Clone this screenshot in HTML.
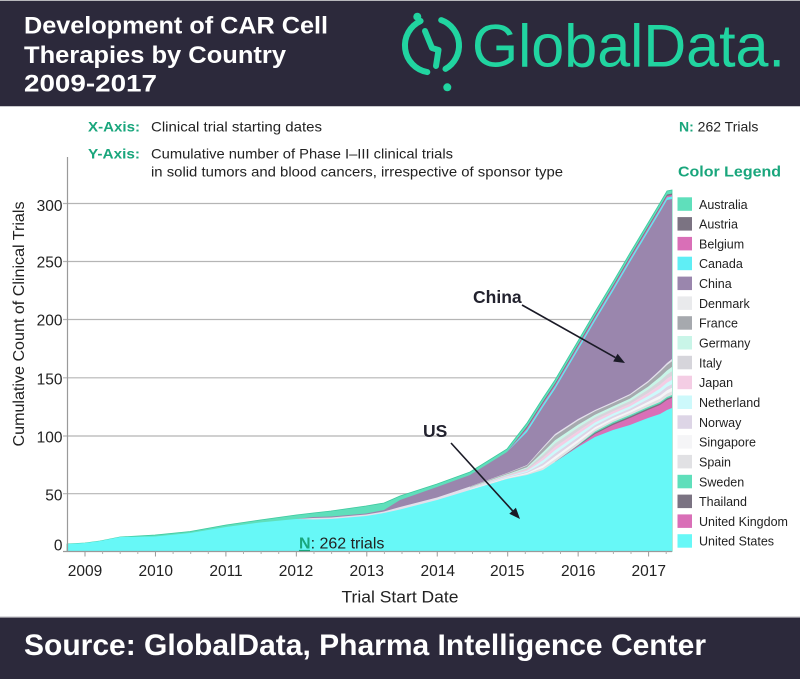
<!DOCTYPE html>
<html>
<head>
<meta charset="utf-8">
<style>
  html,body{margin:0;padding:0;background:#ffffff;}
  svg{display:block;}
  text{font-family:"Liberation Sans",Arial,sans-serif;}
</style>
</head>
<body>
<svg width="800" height="679" viewBox="0 0 800 679" xmlns="http://www.w3.org/2000/svg">
  <!-- Header -->
  <rect x="0" y="0" width="800" height="106" fill="#2c293b"/>
  <line x1="0" y1="0.5" x2="800" y2="0.5" stroke="#b8b8bc" stroke-width="1"/>
  <line x1="0" y1="106.5" x2="800" y2="106.5" stroke="#c8c8cc" stroke-width="1"/>
  <text x="24" y="33.3" font-size="24" font-weight="bold" fill="#ffffff" textLength="304" lengthAdjust="spacingAndGlyphs">Development of CAR Cell</text>
  <text x="24" y="63" font-size="24" font-weight="bold" fill="#ffffff" textLength="262" lengthAdjust="spacingAndGlyphs">Therapies by Country</text>
  <text x="24" y="91.7" font-size="24" font-weight="bold" fill="#ffffff" textLength="133" lengthAdjust="spacingAndGlyphs">2009-2017</text>

  <!-- Logo -->
  <g fill="none" stroke="#21d4a0" stroke-width="6" stroke-linecap="round" stroke-linejoin="round">
    <path d="M420.6,21 A27,27 0 0 0 427.3,72.1"/>
    <path d="M441.2,20.1 A27,27 0 0 1 445.5,68.9"/>
    <path d="M425,31 L432,48 L438.5,50 L436,66"/>
  </g>
  <circle cx="417.3" cy="16.7" r="4" fill="#21d4a0"/>
  <circle cx="447.3" cy="87.3" r="4" fill="#21d4a0"/>
  <text x="472" y="66.7" font-size="60" fill="#21d4a0" textLength="313" lengthAdjust="spacingAndGlyphs">GlobalData.</text>

  <!-- Sub-header -->
  <text x="88" y="131.5" font-size="14" font-weight="bold" fill="#19a67c" textLength="52" lengthAdjust="spacingAndGlyphs">X-Axis:</text>
  <text x="151" y="131.5" font-size="14" fill="#222222" textLength="171" lengthAdjust="spacingAndGlyphs">Clinical trial starting dates</text>
  <text x="88" y="158.5" font-size="14" font-weight="bold" fill="#19a67c" textLength="52" lengthAdjust="spacingAndGlyphs">Y-Axis:</text>
  <text x="151" y="158.5" font-size="14" fill="#222222" textLength="302" lengthAdjust="spacingAndGlyphs">Cumulative number of Phase I–III clinical trials</text>
  <text x="151" y="176.7" font-size="14" fill="#222222" textLength="412" lengthAdjust="spacingAndGlyphs">in solid tumors and blood cancers, irrespective of sponsor type</text>
  <text x="679" y="131.5" font-size="14" fill="#222222"><tspan font-weight="bold" fill="#19a67c">N:</tspan> 262 Trials</text>
  <text x="678" y="176.7" font-size="15" font-weight="bold" fill="#19a67c" textLength="103" lengthAdjust="spacingAndGlyphs">Color Legend</text>

  <!-- Gridlines -->
  <g stroke="#b5b5b5" stroke-width="1.2">
    <line x1="63" y1="203.5" x2="672" y2="203.5"/>
    <line x1="63" y1="261.5" x2="672" y2="261.5"/>
    <line x1="63" y1="319.5" x2="672" y2="319.5"/>
    <line x1="63" y1="377.8" x2="672" y2="377.8"/>
    <line x1="63" y1="436" x2="672" y2="436"/>
    <line x1="63" y1="493.7" x2="672" y2="493.7"/>
  </g>

  <!-- Stacked areas (painter order: top boundary first) -->
  <!-- Australia -->
  <path d="M67,551.5 L67,544 L85,543 L100,541 L120,537 L155,535 L190,531.5 L226,525 L260,520 L296,515 L313,513 L331,511 L366,506 L384,503 L400,496 L437,484 L470,472 L507,449 L527,423 L543,398 L555,380 L578,341 L595,312 L613,282 L630,253 L648,223 L660,203 L667,191 L672,190 L672,551.5 Z" fill="#5fdfbb" stroke="#3fc99f" stroke-width="0.8"/>
  <!-- Austria -->
  <path d="M507,551.5 L507,452 L527,426.5 L543,401.5 L555,383.5 L578,344.5 L595,315.5 L613,285.5 L630,256.5 L648,226.5 L660,206.5 L667,194.5 L672,193.5 L672,551.5 Z" fill="#7b7382"/>
  <!-- Belgium -->
  <path d="M507,551.5 L507,452 L527,428 L543,403 L555,385 L578,346 L595,317 L613,287 L630,258 L648,228 L660,208 L667,196 L672,195 L672,551.5 Z" fill="#d96fb7"/>
  <!-- Canada -->
  <path d="M507,551.5 L507,452 L527,429.5 L543,404.5 L555,386.5 L578,347.5 L595,318.5 L613,288.5 L630,259.5 L648,229.5 L660,209.5 L667,197.5 L672,196.5 L672,551.5 Z" fill="#5feef5"/>
  <!-- China -->
  <path d="M296,551.5 L296,519 L313,517 L331,516.5 L366,513.5 L384,510 L400,500 L437,487 L470,475 L507,452 L527,432 L543,407 L555,389 L578,350 L595,321 L613,291 L630,262 L648,232 L660,212 L667,200 L672,199 L672,551.5 Z" fill="#9a86ad"/>
  <!-- Denmark -->
  <path d="M296,551.5 L296,519 L313,518 L331,517.5 L366,514.5 L384,511.5 L400,507 L437,497.5 L470,486.5 L507,473 L527,465 L543,447 L555,434 L578,419 L595,410 L613,402 L630,394 L648,381 L660,370 L667,363 L672,359 L672,551.5 Z" fill="#e4e0ec"/>
  <!-- France -->
  <path d="M470,551.5 L470,486.7 L507,473.4 L527,465.6 L543,448.4 L555,435.7 L578,420.6 L595,411.3 L613,403.2 L630,395.3 L648,382.6 L660,371.9 L667,365 L672,361.2 L672,551.5 Z" fill="#a6a9ae"/>
  <!-- Germany -->
  <path d="M470,551.5 L470,487.3 L507,474.3 L527,467.2 L543,452.1 L555,440.2 L578,424.7 L595,414.7 L613,406.4 L630,398.6 L648,386.7 L660,377 L667,370.5 L672,366.9 L672,551.5 Z" fill="#c9f5e8"/>
  <!-- Italy -->
  <path d="M470,551.5 L470,487.7 L507,475 L527,468.4 L543,454.8 L555,443.5 L578,427.8 L595,417.3 L613,408.8 L630,401.1 L648,389.8 L660,380.9 L667,374.6 L672,371.2 L672,551.5 Z" fill="#d6d5db"/>
  <!-- Japan -->
  <path d="M470,551.5 L470,488.1 L507,475.8 L527,469.6 L543,457.6 L555,446.9 L578,431 L595,419.9 L613,411.2 L630,403.7 L648,393 L660,384.7 L667,378.6 L672,375.6 L672,551.5 Z" fill="#f4cde4"/>
  <!-- Netherland -->
  <path d="M470,551.5 L470,488.5 L507,476.5 L527,470.8 L543,460.3 L555,450.2 L578,434.1 L595,422.5 L613,413.6 L630,406.2 L648,396.1 L660,388.6 L667,382.7 L672,379.9 L672,551.5 Z" fill="#cdf9fb"/>
  <!-- Norway -->
  <path d="M470,551.5 L470,489 L507,477.2 L527,472 L543,463.1 L555,453.6 L578,437.2 L595,425.1 L613,416 L630,408.7 L648,399.2 L660,392.4 L667,386.8 L672,384.2 L672,551.5 Z" fill="#ddd5e6"/>
  <!-- Singapore -->
  <path d="M470,551.5 L470,489.3 L507,477.8 L527,473 L543,465.4 L555,456.4 L578,439.8 L595,427.2 L613,418 L630,410.8 L648,401.8 L660,395.6 L667,390.2 L672,387.8 L672,551.5 Z" fill="#f5f5f7"/>
  <!-- Spain -->
  <path d="M470,551.5 L470,489.7 L507,478.4 L527,474 L543,467.7 L555,459.2 L578,442.4 L595,429.4 L613,420 L630,412.9 L648,404.4 L660,398.8 L667,393.6 L672,391.4 L672,551.5 Z" fill="#e1e1e4"/>
  <!-- Sweden -->
  <path d="M555,551.5 L555,462 L578,445 L595,431.5 L613,422 L630,415 L648,407 L660,402 L667,397 L672,395 L672,551.5 Z" fill="#5fdfbb"/>
  <!-- Thailand -->
  <path d="M555,551.5 L555,462 L578,445.5 L595,432.8 L613,423.5 L630,416.5 L648,408.5 L660,403.5 L667,398.5 L672,396.5 L672,551.5 Z" fill="#7b7382"/>
  <!-- United Kingdom -->
  <path d="M555,551.5 L555,462 L578,446 L595,434 L613,425 L630,418 L648,410 L660,405 L667,400 L672,398 L672,551.5 Z" fill="#d96fb7"/>
  <!-- United States -->
  <path d="M67,551.5 L67,544 L85,543 L100,541 L120,537 L155,536.5 L190,533 L226,527 L260,522.5 L296,519 L313,519.5 L331,519 L366,516 L384,513 L400,509.5 L437,500 L470,490 L507,479 L527,475 L543,470 L555,462 L578,447 L595,437 L613,430 L630,425 L648,418 L660,414 L667,410 L672,408 L672,551.5 Z" fill="#67f8f7"/>

  <!-- Axes -->
  <line x1="67.5" y1="157" x2="67.5" y2="552" stroke="#9a9a9a" stroke-width="1.2"/>
  <line x1="63" y1="551.5" x2="672" y2="551.5" stroke="#9a9a9a" stroke-width="1.2"/>
  <path d="M85,551.5 V556.5 M155.45,551.5 V556.5 M225.9,551.5 V556.5 M296.35,551.5 V556.5 M366.8,551.5 V556.5 M437.25,551.5 V556.5 M507.7,551.5 V556.5 M578.15,551.5 V556.5 M648.6,551.5 V556.5" stroke="#9a9a9a" stroke-width="1"/>
  <path d="M102.6,551.5 V554 M120.2,551.5 V554 M137.8,551.5 V554 M173.1,551.5 V554 M190.7,551.5 V554 M208.3,551.5 V554 M243.5,551.5 V554 M261.1,551.5 V554 M278.7,551.5 V554 M314,551.5 V554 M331.6,551.5 V554 M349.2,551.5 V554 M384.4,551.5 V554 M402,551.5 V554 M419.6,551.5 V554 M454.9,551.5 V554 M472.5,551.5 V554 M490.1,551.5 V554 M525.3,551.5 V554 M542.9,551.5 V554 M560.5,551.5 V554 M595.8,551.5 V554 M613.4,551.5 V554 M631,551.5 V554 M666.2,551.5 V554" stroke="#b0b0b0" stroke-width="1"/>

  <!-- Y tick labels -->
  <g font-size="15.5" fill="#222222" text-anchor="end">
    <text x="62.5" y="211">300</text>
    <text x="62.5" y="267.3">250</text>
    <text x="62.5" y="325.6">200</text>
    <text x="62.5" y="384.6">150</text>
    <text x="62.5" y="442.3">100</text>
    <text x="62.5" y="500.6">50</text>
    <text x="62.5" y="550.6">0</text>
  </g>
  <!-- X tick labels -->
  <g font-size="15.5" fill="#222222" text-anchor="middle">
    <text x="85" y="576">2009</text>
    <text x="155.7" y="576">2010</text>
    <text x="226" y="576">2011</text>
    <text x="296" y="576">2012</text>
    <text x="366.7" y="576">2013</text>
    <text x="437.7" y="576">2014</text>
    <text x="507.3" y="576">2015</text>
    <text x="578.3" y="576">2016</text>
    <text x="648.7" y="576">2017</text>
  </g>
  <text x="400" y="602.5" font-size="16.5" fill="#222222" text-anchor="middle" textLength="117" lengthAdjust="spacingAndGlyphs">Trial Start Date</text>
  <text transform="translate(24,324) rotate(-90)" font-size="16" fill="#222222" text-anchor="middle" textLength="245" lengthAdjust="spacingAndGlyphs">Cumulative Count of Clinical Trials</text>

  <!-- In-chart N label -->
  <text x="299" y="548.3" font-size="16" fill="#222222"><tspan font-weight="bold" fill="#19a67c">N</tspan>: 262 trials</text>
  <line x1="299" y1="550.5" x2="310" y2="550.5" stroke="#19a67c" stroke-width="1.2"/>

  <!-- Annotations -->
  <text x="473" y="303" font-size="17.5" font-weight="bold" fill="#22222e">China</text>
  <line x1="522" y1="305" x2="615.4" y2="357.6" stroke="#1a1a26" stroke-width="1.6"/>
  <polygon points="625,363 613.2,361.5 617.6,353.7" fill="#1a1a26"/>
  <text x="423" y="437" font-size="17.5" font-weight="bold" fill="#22222e">US</text>
  <line x1="451" y1="443" x2="512.6" y2="510.8" stroke="#1a1a26" stroke-width="1.6"/>
  <polygon points="520,519 509.3,513.8 515.9,507.8" fill="#1a1a26"/>

  <!-- Legend -->
  <g font-size="12.5" fill="#222222">
    <rect x="677.5" y="197.3" width="14.5" height="13.5" fill="#5fdfbb"/><text x="699" y="208.8">Australia</text>
    <rect x="677.5" y="217.1" width="14.5" height="13.5" fill="#7b7382"/><text x="699" y="228.6">Austria</text>
    <rect x="677.5" y="236.9" width="14.5" height="13.5" fill="#d96fb7"/><text x="699" y="248.4">Belgium</text>
    <rect x="677.5" y="256.7" width="14.5" height="13.5" fill="#5feef5"/><text x="699" y="268.2">Canada</text>
    <rect x="677.5" y="276.6" width="14.5" height="13.5" fill="#9a86ad"/><text x="699" y="288.1">China</text>
    <rect x="677.5" y="296.4" width="14.5" height="13.5" fill="#e9eaec"/><text x="699" y="307.9">Denmark</text>
    <rect x="677.5" y="316.2" width="14.5" height="13.5" fill="#a6a9ae"/><text x="699" y="327.7">France</text>
    <rect x="677.5" y="336" width="14.5" height="13.5" fill="#c9f5e8"/><text x="699" y="347.5">Germany</text>
    <rect x="677.5" y="355.8" width="14.5" height="13.5" fill="#d6d5db"/><text x="699" y="367.3">Italy</text>
    <rect x="677.5" y="375.7" width="14.5" height="13.5" fill="#f4cde4"/><text x="699" y="387.2">Japan</text>
    <rect x="677.5" y="395.5" width="14.5" height="13.5" fill="#cdf9fb"/><text x="699" y="407">Netherland</text>
    <rect x="677.5" y="415.3" width="14.5" height="13.5" fill="#ddd5e6"/><text x="699" y="426.8">Norway</text>
    <rect x="677.5" y="435.1" width="14.5" height="13.5" fill="#f5f5f7"/><text x="699" y="446.6">Singapore</text>
    <rect x="677.5" y="454.9" width="14.5" height="13.5" fill="#e1e1e4"/><text x="699" y="466.4">Spain</text>
    <rect x="677.5" y="474.8" width="14.5" height="13.5" fill="#5fdfbb"/><text x="699" y="486.3">Sweden</text>
    <rect x="677.5" y="494.6" width="14.5" height="13.5" fill="#7b7382"/><text x="699" y="506.1">Thailand</text>
    <rect x="677.5" y="514.4" width="14.5" height="13.5" fill="#d96fb7"/><text x="699" y="525.9">United Kingdom</text>
    <rect x="677.5" y="534.2" width="14.5" height="13.5" fill="#67f8f7"/><text x="699" y="545.7">United States</text>
  </g>

  <!-- Footer -->
  <rect x="0" y="617" width="800" height="62" fill="#2c293b"/>
  <line x1="0" y1="617" x2="800" y2="617" stroke="#c8c8cc" stroke-width="1.2"/>
  <text x="24" y="655" font-size="30" font-weight="bold" fill="#ffffff" textLength="682" lengthAdjust="spacingAndGlyphs">Source: GlobalData, Pharma Intelligence Center</text>
</svg>
</body>
</html>
